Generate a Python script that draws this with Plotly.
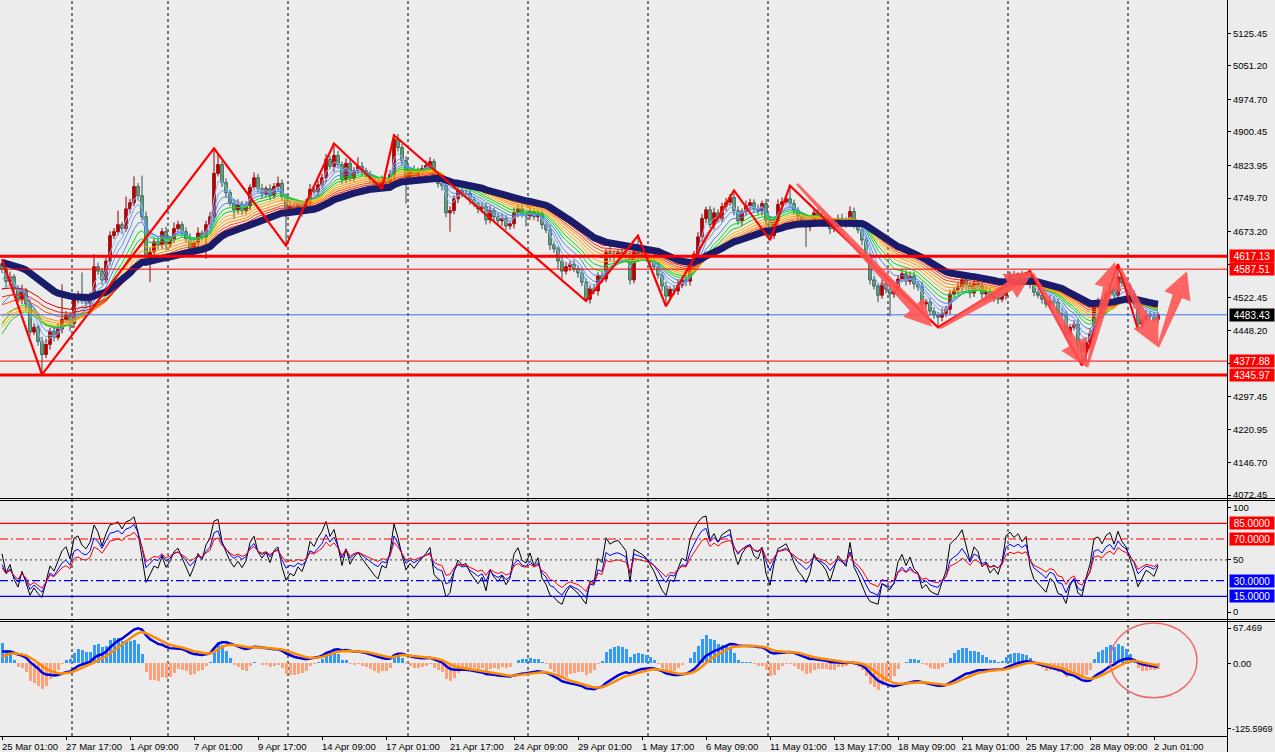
import plotly.graph_objects as go

# ---------------- data (H4 bars) ----------------
first_open = 4600.0
closes = [
    4588, 4560, 4570, 4542, 4519, 4538, 4508, 4444, 4455, 4423,
    4393, 4416, 4446, 4432, 4451, 4473, 4483, 4464, 4519, 4528,
    4515, 4510, 4524, 4593, 4583, 4563, 4606, 4664, 4673, 4689,
    4680, 4725, 4739, 4776, 4755, 4707, 4606, 4627, 4650, 4643,
    4673, 4643, 4657, 4680, 4689, 4673, 4657, 4634, 4648, 4670,
    4661, 4689, 4707, 4806, 4826, 4785, 4762, 4739, 4723, 4735,
    4721, 4732, 4774, 4796, 4771, 4760, 4771, 4755, 4776, 4783,
    4753, 4721, 4730, 4725, 4735, 4728, 4739, 4769, 4764, 4780,
    4796, 4838, 4822, 4847, 4826, 4792, 4829, 4796, 4812, 4822,
    4812, 4803, 4794, 4785, 4778, 4790, 4787, 4803, 4884, 4865,
    4835, 4799, 4812, 4801, 4810, 4817, 4824, 4833, 4794, 4783,
    4778, 4716, 4721, 4748, 4767, 4758, 4760, 4746, 4737, 4725,
    4730, 4700, 4721, 4707, 4698, 4703, 4686, 4691, 4716, 4725,
    4712, 4709, 4719, 4707, 4714, 4689, 4677, 4643, 4634, 4606,
    4583, 4593, 4599, 4588, 4579, 4558, 4519, 4544, 4538, 4572,
    4565, 4625, 4615, 4622, 4625, 4620, 4615, 4563, 4627, 4622,
    4618, 4613, 4604, 4593, 4574, 4549, 4526, 4542, 4538, 4551,
    4563, 4560, 4593, 4622, 4661, 4703, 4723, 4689, 4716, 4703,
    4730, 4739, 4751, 4721, 4698, 4719, 4732, 4739, 4725, 4721,
    4737, 4698, 4664, 4698, 4735, 4741, 4748, 4737, 4721, 4707,
    4698, 4684, 4693, 4716, 4707, 4703, 4696, 4680, 4691, 4703,
    4698, 4693, 4719, 4691, 4677, 4654, 4615, 4563, 4549, 4528,
    4554, 4542, 4531, 4538, 4565, 4577, 4560, 4572, 4554, 4547,
    4508, 4512, 4492, 4483, 4478, 4487, 4496, 4531, 4538, 4547,
    4563, 4551, 4533, 4554, 4549, 4531, 4535, 4522, 4526, 4519,
    4528, 4565, 4574, 4570, 4577, 4572, 4579, 4554, 4535, 4528,
    4519, 4508, 4517, 4512, 4487, 4483, 4439, 4455, 4462, 4416,
    4400, 4421, 4441, 4508, 4515, 4505, 4531, 4542, 4528, 4570,
    4556, 4549, 4531, 4508, 4462, 4473, 4485, 4480, 4473, 4483.43,
]
hi_wick = [
    10, 8, 12, 6, 9, 14, 7, 11, 9, 6, 10, 13, 8, 7, 12, 80, 9, 6, 14, 10,
    52, 8, 11, 29, 9, 7, 12, 10, 8, 32, 6, 28, 9, 23, 8, 46, 12, 9, 7, 10,
    8, 11, 6, 14, 9, 7, 10, 12, 8, 13, 6, 9, 11, 57, 25, 8, 10, 7, 9, 12,
    8, 10, 7, 12, 9, 11, 6, 10, 8, 16, 9, 7, 12, 8, 10, 6, 9, 13, 7, 10,
    9, 12, 8, 27, 10, 7, 11, 9, 8, 21, 10, 7, 9, 6, 8, 11, 7, 10, 9, 12,
    8, 10, 7, 12, 9, 8, 11, 10, 6, 9, 7, 12, 10, 8, 11, 7, 9, 10, 8, 6,
    10, 8, 12, 7, 9, 11, 8, 6, 13, 10, 9, 7, 11, 8, 10, 9, 7, 12, 8, 6,
    9, 11, 7, 10, 8, 12, 9, 7, 10, 8, 11, 9, 25, 8, 7, 10, 9, 12, 8, 37,
    8, 10, 7, 9, 11, 8, 10, 7, 9, 12, 8, 10, 9, 7, 11, 10, 7, 9, 12, 8,
    9, 11, 8, 16, 10, 7, 12, 9, 8, 10, 7, 11, 9, 8, 12, 10, 7, 30, 9, 8,
    10, 8, 11, 7, 9, 12, 8, 10, 7, 9, 11, 8, 12, 9, 7, 10, 8, 11, 9, 7,
    10, 8, 12, 9, 7, 11, 8, 10, 9, 7, 12, 8, 10, 9, 7, 11, 8, 10, 9, 12,
    8, 10, 7, 11, 9, 8, 12, 10, 7, 9, 11, 10, 8, 10, 3, 7, 2, 4, 9, 8,
    10, 7, 11, 9, 8, 12, 10, 7, 9, 11, 8, 10, 12, 9, 7, 10, 8, 11, 9, 29,
    8, 10, 7, 9, 11, 8, 10, 7, 9, 6,
]
lo_wick = [
    9, 12, 7, 10, 8, 11, 13, 9, 7, 10, 46, 8, 12, 9, 7, 10, 8, 18, 11, 9,
    7, 10, 12, 8, 9, 11, 7, 10, 8, 9, 12, 7, 10, 8, 11, 9, 11, 48, 8, 10,
    9, 12, 7, 10, 8, 11, 9, 13, 7, 10, 8, 50, 9, 11, 7, 10, 12, 8, 21, 9,
    10, 8, 11, 7, 9, 12, 8, 10, 7, 9, 11, 80, 8, 10, 9, 21, 7, 11, 8, 10,
    8, 10, 7, 12, 9, 11, 8, 10, 9, 7, 12, 8, 10, 9, 3, 7, 8, 10, 12, 9,
    10, 62, 8, 11, 9, 7, 10, 12, 8, 9, 11, 10, 43, 8, 10, 7, 9, 11, 8, 10,
    9, 11, 8, 10, 7, 12, 9, 8, 11, 10, 7, 24, 9, 8, 11, 10, 7, 12, 9, 18,
    25, 8, 10, 7, 11, 9, 4, 10, 8, 11, 9, 7, 10, 12, 8, 9, 11, 10, 8, 9,
    10, 8, 11, 7, 9, 12, 23, 8, 10, 9, 7, 11, 10, 8, 9, 12, 10, 8, 11, 9,
    8, 10, 7, 11, 9, 12, 8, 10, 7, 9, 11, 10, 10, 8, 9, 11, 7, 10, 8, 12,
    9, 46, 10, 8, 11, 7, 9, 12, 8, 10, 9, 11, 7, 10, 8, 12, 9, 10, 8, 16,
    8, 10, 51, 9, 11, 7, 10, 8, 12, 9, 10, 8, 11, 9, 23, 10, 8, 11, 9, 7,
    10, 8, 11, 9, 7, 12, 10, 8, 9, 11, 7, 10, 8, 12, 9, 10, 8, 11, 9, 7,
    10, 8, 11, 9, 12, 8, 10, 9, 7, 11, 32, 25, 15, 9, 10, 8, 11, 9, 7, 10,
    9, 11, 8, 10, 12, 9, 8, 10, 7, 9,
]

date_labels = ["25 Mar 01:00", "27 Mar 17:00", "1 Apr 09:00", "7 Apr 01:00", "9 Apr 17:00",
               "14 Apr 09:00", "17 Apr 01:00", "21 Apr 17:00", "24 Apr 09:00", "29 Apr 01:00",
               "1 May 17:00", "6 May 09:00", "11 May 01:00", "13 May 17:00", "18 May 09:00",
               "21 May 01:00", "25 May 17:00", "28 May 09:00", "2 Jun 01:00"]
label_bars = [0, 16, 32, 48, 64, 80, 96, 112, 128, 144, 160, 176, 192, 208, 224, 240, 256, 272, 288]
grid_bars = [17.5, 41.5, 71.5, 101.5, 131.5, 161.5, 191.5, 221.5, 251.5, 281.5]

zigzag_bars = [0, 10, 53, 71, 83, 95, 98, 146, 159, 166, 183, 192, 197, 234, 257, 270, 279, 284]
zigzag_kind = ["H", "L", "H", "L", "H", "L", "H", "L", "H", "L", "H", "L", "H", "L", "H", "L", "H", "L"]

hline_prices = [4617.13, 4587.51, 4483.43, 4377.88, 4345.97]
hline_widths = [3, 1, 1, 1, 3]
hline_colors = ["#FF0000", "#FF0000", "#3C6FE6", "#FF0000", "#FF0000"]
box_bg = ["#FF0000", "#FF0000", "#000000", "#FF0000", "#FF0000"]

price_ticks = [5125.45, 5051.20, 4974.70, 4900.45, 4823.95, 4749.70, 4673.20, 4598.95,
               4522.45, 4448.20, 4371.70, 4297.45, 4220.95, 4146.70, 4072.45]
osc_levels = [85, 70, 50, 30, 15]
osc_level_colors = ["#FF0000", "#FF0000", "#555555", "#0000FF", "#0000FF"]
osc_level_dash = ["solid", "8px,3px,2px,3px", "2px,3px", "8px,3px,2px,3px", "solid"]
osc_box = {85: "#FF0000", 70: "#FF0000", 30: "#0000FF", 15: "#0000FF"}
macd_ticks = [67.469, 0.0]
macd_ticktext = ["67.469", "0.00"]
macd_low_label = -125.5969

arrow_start_bar = [198.75, 234.5, 257.75, 271.25, 279.5, 289.0]
arrow_start_price = [4782, 4453, 4577, 4364, 4590, 4410]
arrow_end_bar = [232.5, 257.75, 271.25, 278.25, 289.0, 296.25]
arrow_end_price = [4456, 4581, 4364, 4604, 4410, 4583]

circle_bars = [277.0, 298.75]
circle_vals = [-66.0, 77.0]

ma_periods = [3, 5, 7, 10, 13, 16, 19, 22, 25, 28, 31, 34]
ma_seeds = [4580, 4555, 4525, 4490, 4440, 4420, 4440, 4455, 4470, 4500, 4520, 4540]
ma_colors = ["#8FBBF5", "#6FA4F0", "#5A92EC", "#4A84E6", "#00E600", "#1EC81E",
             "#FFB400", "#FFA000", "#FF8C00", "#FF4A00", "#FF2000", "#E80000"]
navy_period, navy_seed = 38, 4604

rsi_periods = [5, 9, 14]
rsi_seeds = [67, 50, 45]
rsi_colors = ["#000000", "#0000FF", "#FF0000"]
macd_fast, macd_slow, macd_sig = 12, 26, 5
macd_seed_fast, macd_seed_slow, macd_seed_sig = 4535, 4515, 8
hist_gain = 4.0

# ---------------- geometry ----------------
PLOT_W, PLOT_H = 1227, 736
XR = [-0.5, 306.25]
YR_MAIN = [4065.6, 5201.4]
YR_OSC = [-6.7, 107.4]
YR_MACD = [-139.0, 80.85]
MAIN_BOT = 498
D_MAIN = [(PLOT_H - 498) / PLOT_H, 1.0]
D_OSC = [(PLOT_H - 619) / PLOT_H, (PLOT_H - 500) / PLOT_H]
D_MACD = [0.0, (PLOT_H - 621) / PLOT_H]

n = len(closes)
opens = [first_open] + closes[:-1]
highs = [max(o, c) + w for o, c, w in zip(opens, closes, hi_wick)]
lows = [min(o, c) - w for o, c, w in zip(opens, closes, lo_wick)]
xs = list(range(n))


def ema(vals, period, seed):
    a = 2.0 / (period + 1)
    out, e = [], seed
    for v in vals:
        e = e + a * (v - e)
        out.append(e)
    return out


def rsi(vals, period, seed_val, prev):
    mag = 15.0
    ag, al = mag * seed_val / 100, mag * (1 - seed_val / 100)
    out = []
    for v in vals:
        ch = v - prev
        prev = v
        ag = (ag * (period - 1) + max(ch, 0)) / period
        al = (al * (period - 1) + max(-ch, 0)) / period
        out.append(100 * ag / (ag + al) if ag + al > 0 else 50)
    return out


fig = go.Figure()

# candles: wicks
up_x, up_y, dn_x, dn_y = [], [], [], []
for i in xs:
    if closes[i] >= opens[i]:
        up_x += [i, i, None]; up_y += [lows[i], highs[i], None]
    else:
        dn_x += [i, i, None]; dn_y += [lows[i], highs[i], None]
fig.add_trace(go.Scatter(x=up_x, y=up_y, mode="lines", line=dict(color="#8B0000", width=1),
                         hoverinfo="skip", showlegend=False))
fig.add_trace(go.Scatter(x=dn_x, y=dn_y, mode="lines", line=dict(color="#2F4F4F", width=1),
                         hoverinfo="skip", showlegend=False))
# candles: bodies
body_base = [min(o, c) for o, c in zip(opens, closes)]
body_h = [max(abs(c - o), 1.5) for o, c in zip(opens, closes)]
body_fill = ["#E00000" if c >= o else "#98F598" for o, c in zip(opens, closes)]
body_line = ["#990000" if c >= o else "#2F4F4F" for o, c in zip(opens, closes)]
fig.add_trace(go.Bar(x=xs, y=body_h, base=body_base, width=0.72,
                     marker=dict(color=body_fill, line=dict(color=body_line, width=0.8)),
                     hoverinfo="skip", showlegend=False))

# rainbow moving averages
for p, s, col in zip(ma_periods, ma_seeds, ma_colors):
    fig.add_trace(go.Scatter(x=xs, y=ema(closes, p, s), mode="lines",
                             line=dict(color=col, width=1), hoverinfo="skip", showlegend=False))
fig.add_trace(go.Scatter(x=xs, y=ema(closes, navy_period, navy_seed), mode="lines",
                         line=dict(color="#1B1B6B", width=7), hoverinfo="skip", showlegend=False))

# zigzag
zz_y = [highs[b] if k == "H" else lows[b] for b, k in zip(zigzag_bars, zigzag_kind)]
fig.add_trace(go.Scatter(x=zigzag_bars, y=zz_y, mode="lines", line=dict(color="#FF0000", width=2.2),
                         hoverinfo="skip", showlegend=False))

# oscillator pane
for p, s, col in zip(rsi_periods, rsi_seeds, rsi_colors):
    fig.add_trace(go.Scatter(x=xs, y=rsi(closes, p, s, first_open), mode="lines", yaxis="y2",
                             line=dict(color=col, width=1), hoverinfo="skip", showlegend=False))

# MACD pane
ef = ema(closes, macd_fast, macd_seed_fast)
es = ema(closes, macd_slow, macd_seed_slow)
main = [a - b for a, b in zip(ef, es)]
sig = ema(main, macd_sig, macd_seed_sig)
hist = [(m - s) * hist_gain for m, s in zip(main, sig)]
fig.add_trace(go.Bar(x=xs, y=hist, width=0.75, yaxis="y3",
                     marker=dict(color=["#3399FF" if h >= 0 else "#FFA07A" for h in hist], line=dict(width=0)),
                     hoverinfo="skip", showlegend=False))
fig.add_trace(go.Scatter(x=xs, y=main, mode="lines", yaxis="y3", line=dict(color="#0000E0", width=2.5),
                         hoverinfo="skip", showlegend=False))
fig.add_trace(go.Scatter(x=xs, y=sig, mode="lines", yaxis="y3", line=dict(color="#FF8C00", width=2.5),
                         hoverinfo="skip", showlegend=False))

shapes = []
# vertical dashed grid
for gb in grid_bars:
    shapes.append(dict(type="line", xref="x", yref="paper", x0=gb, x1=gb, y0=0, y1=1, layer="below",
                       line=dict(color="#000000", width=1, dash="3px,3px")))
# horizontal price lines
for pr, w, col in zip(hline_prices, hline_widths, hline_colors):
    shapes.append(dict(type="line", xref="paper", yref="y", x0=0, x1=1, y0=pr, y1=pr,
                       line=dict(color=col, width=w)))
# oscillator levels
for lv, col, dsh in zip(osc_levels, osc_level_colors, osc_level_dash):
    shapes.append(dict(type="line", xref="paper", yref="y2", x0=0, x1=1, y0=lv, y1=lv,
                       line=dict(color=col, width=1.2, dash=dsh)))


# arrows (tapered, computed in pixel space)
def to_px(b, p):
    x = (b - XR[0]) / (XR[1] - XR[0]) * PLOT_W
    y = (YR_MAIN[1] - p) / (YR_MAIN[1] - YR_MAIN[0]) * MAIN_BOT
    return x, y


for b0, p0, b1, p1 in zip(arrow_start_bar, arrow_start_price, arrow_end_bar, arrow_end_price):
    sx, sy = to_px(b0, p0)
    ex, ey = to_px(b1, p1)
    L = ((ex - sx) ** 2 + (ey - sy) ** 2) ** 0.5
    dx, dy = (ex - sx) / L, (ey - sy) / L
    nx, ny = -dy, dx
    head_len, head_w, w0, w1 = 27.0, 14.0, 1.2, 5.0
    bx, by = ex - dx * head_len, ey - dy * head_len
    pts = [(sx + nx * w0, sy + ny * w0), (bx + nx * w1, by + ny * w1), (bx + nx * head_w, by + ny * head_w),
           (ex, ey), (bx - nx * head_w, by - ny * head_w), (bx - nx * w1, by - ny * w1),
           (sx - nx * w0, sy - ny * w0)]
    path = "M " + " L ".join(f"{px / PLOT_W:.5f},{1 - py / PLOT_H:.5f}" for px, py in pts) + " Z"
    shapes.append(dict(type="path", xref="paper", yref="paper", path=path,
                       fillcolor="rgba(255,82,82,0.88)", line=dict(width=0)))

# red circle in MACD pane
shapes.append(dict(type="circle", xref="x", yref="y3", x0=circle_bars[0], x1=circle_bars[1],
                   y0=circle_vals[0], y1=circle_vals[1], line=dict(color="#EE6A6A", width=1.5)))

# pane separators (half-pixel offsets keep them crisp)
FULL = 1275 / PLOT_W
for ypx in [498.5, 500.5, 619.5, 621.5]:
    shapes.append(dict(type="line", xref="paper", yref="paper", x0=0, x1=FULL,
                       y0=1 - ypx / PLOT_H, y1=1 - ypx / PLOT_H, line=dict(color="#000000", width=1)))
shapes.append(dict(type="line", xref="paper", yref="paper", x0=(PLOT_W + 0.5) / PLOT_W, x1=(PLOT_W + 0.5) / PLOT_W,
                   y0=-16 / PLOT_H, y1=1, line=dict(color="#000000", width=1)))

FONT = dict(family="Liberation Sans, Arial, sans-serif", size=9.5, color="#000000")
WFONT = dict(family="Liberation Sans, Arial, sans-serif", size=10, color="#FFFFFF")
annotations = []
for lb, txt in zip(label_bars, date_labels):
    annotations.append(dict(x=lb, y=0, xref="x", yref="paper", text=txt, showarrow=False,
                            xanchor="left", yanchor="top", xshift=-2, yshift=-3, font=FONT))
for pr, bg in zip(hline_prices, box_bg):
    annotations.append(dict(x=1, y=pr, xref="paper", yref="y", text=f"{pr:.2f}", showarrow=False,
                            xanchor="left", yanchor="middle", xshift=2, bgcolor=bg, borderpad=1,
                            width=42, height=10, font=WFONT))
for lv, bg in osc_box.items():
    annotations.append(dict(x=1, y=lv, xref="paper", yref="y2", text=f"{lv:.4f}", showarrow=False,
                            xanchor="left", yanchor="middle", xshift=2, bgcolor=bg, borderpad=1,
                            width=42, height=10, font=WFONT))
annotations.append(dict(x=1, y=5201.95, xref="paper", yref="y", text="5201.95", showarrow=False,
                        xanchor="left", yanchor="middle", xshift=5, font=FONT))
annotations.append(dict(x=1, y=macd_low_label, xref="paper", yref="y3", text=f"{macd_low_label:.4f}",
                        showarrow=False, xanchor="left", yanchor="middle", xshift=3,
                        font=dict(family=FONT["family"], size=9, color="#000000")))

axis_common = dict(showgrid=False, zeroline=False, showline=True, linecolor="#000000", linewidth=1,
                   ticks="outside", ticklen=3, tickcolor="#000000", tickfont=FONT, fixedrange=True,
                   automargin=False)

fig.update_layout(
    width=1275, height=752,
    margin=dict(l=0, r=48, t=0, b=16, pad=0),
    paper_bgcolor="#ECECEC", plot_bgcolor="#ECECEC",
    barmode="overlay", showlegend=False, bargap=0,
    xaxis=dict(domain=[0, 1], range=XR, anchor="y3", tickvals=label_bars, showticklabels=False,
               **axis_common),
    yaxis=dict(domain=D_MAIN, range=YR_MAIN, anchor="x", side="right", tickvals=price_ticks,
               ticktext=[f"{v:.2f}" for v in price_ticks], **axis_common),
    yaxis2=dict(domain=D_OSC, range=YR_OSC, anchor="x", side="right", tickvals=[100, 50, 0],
                ticktext=["100", "50", "0"], **axis_common),
    yaxis3=dict(domain=D_MACD, range=YR_MACD, anchor="x", side="right", tickvals=macd_ticks + [macd_low_label],
                ticktext=macd_ticktext + [""], **axis_common),
    shapes=shapes, annotations=annotations,
    hovermode=False,
)

fig.write_html("out.html", config={"displayModeBar": False, "staticPlot": True})
